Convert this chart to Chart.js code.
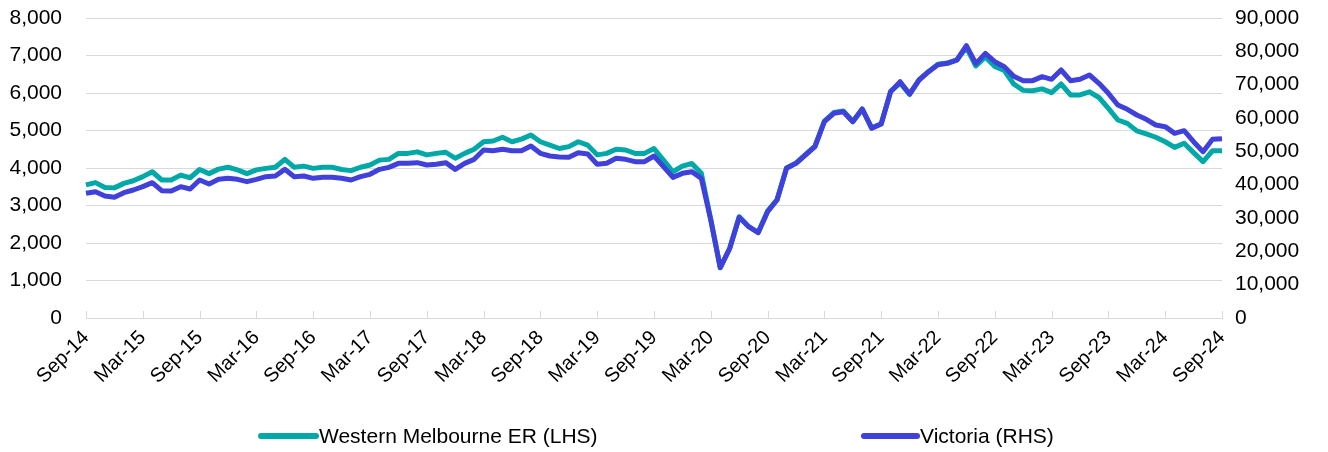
<!DOCTYPE html>
<html>
<head>
<meta charset="utf-8">
<script src="https://cdn.jsdelivr.net/npm/chart.js@4/dist/chart.umd.min.js"></script>
<style>
  html, body { margin: 0; padding: 0; background: #ffffff; }
  #wrap { width: 1328px; height: 452px; }
</style>
</head>
<body>
<div id="wrap"><canvas id="chart" width="1328" height="452"></canvas></div>
<script>
// -----------------------------
// Data (monthly, Sep-14 .. Sep-24)
// -----------------------------
const monthNames = ['Jan', 'Feb', 'Mar', 'Apr', 'May', 'Jun', 'Jul', 'Aug', 'Sep', 'Oct', 'Nov', 'Dec'];
const labels = [];
for (let i = 0; i < 121; i++) {
    const m = (8 + i) % 12;
    const yy = 14 + Math.floor((8 + i) / 12);
    labels.push(monthNames[m] + '-' + yy);
}

const westernMelbourne = [
    3550, 3610, 3480, 3470, 3590, 3660, 3770, 3900, 3680, 3680, 3810, 3740,
    3960, 3850, 3970, 4020, 3950, 3850, 3950, 3990, 4020, 4230, 4020, 4050,
    3990, 4020, 4020, 3960, 3930, 4020, 4080, 4210, 4230, 4390, 4390, 4430,
    4350, 4390, 4420, 4260, 4390, 4500, 4700, 4720, 4820, 4700, 4770, 4880,
    4700, 4610, 4520, 4570, 4700, 4610, 4350, 4390, 4500, 4480, 4390, 4390,
    4520, 4210, 3900, 4050, 4120, 3860, 2620, 1340, 1860, 2700, 2440, 2280,
    2850, 3160, 4000, 4130, 4360, 4580, 5250, 5480, 5520, 5240, 5570, 5070,
    5180, 6050, 6260, 5960, 6350, 6570, 6770, 6800, 6880, 7220, 6720, 6960,
    6710, 6600, 6240, 6070, 6060, 6110, 6010, 6240, 5950, 5950, 6030, 5880,
    5590, 5280, 5190, 4990, 4910, 4820, 4700, 4550, 4660, 4410, 4170, 4460,
    4460
];

const victoria = [
    37400, 37900, 36600, 36200, 37600, 38400, 39400, 40600, 38200, 38100, 39400, 38700,
    41400, 40200, 41600, 41900, 41600, 40900, 41600, 42400, 42600, 44600, 42400, 42600,
    41900, 42200, 42200, 41900, 41400, 42400, 43100, 44600, 45200, 46400, 46400, 46600,
    45900, 46100, 46600, 44600, 46400, 47600, 50400, 50200, 50600, 50200, 50200, 51600,
    49400, 48600, 48300, 48200, 49600, 49200, 46100, 46400, 47900, 47600, 46900, 46900,
    48600, 45400, 42200, 43400, 43900, 41900, 29400, 15100, 20900, 30200, 27400, 25600,
    31900, 35400, 44900, 46400, 48900, 51400, 58900, 61400, 61900, 58900, 62700, 56900,
    58200, 67900, 70900, 67200, 71400, 73900, 76000, 76400, 77400, 81700, 76300, 79400,
    76900, 75400, 72500, 71200, 71200, 72400, 71600, 74400, 71200, 71600, 72900, 70400,
    67400, 63900, 62600, 60900, 59600, 57900, 57400, 55400, 56200, 52900, 49900, 53600,
    53800
];

const seriesNames = ['Western Melbourne ER (LHS)', 'Victoria (RHS)'];
const seriesColors = ['#00A9A8', '#4040DA'];

// -----------------------------
// Theme
// -----------------------------
const fontFamily = '"Liberation Sans", Arial, sans-serif';
const textColor = '#000000';
const gridColor = '#D9D9D9';

// -----------------------------
// Plugin: small inside tick marks on x axis
// -----------------------------
const insideTicks = {
    id: 'insideTicks',
    beforeDatasetsDraw(chart) {
        const {ctx, chartArea, scales} = chart;
        ctx.save();
        ctx.strokeStyle = gridColor;
        ctx.lineWidth = 1;
        for (let i = 0; i < labels.length; i += 6) {
            const x = Math.round(scales.x.getPixelForValue(i)) + 0.5;
            ctx.beginPath();
            ctx.moveTo(x, chartArea.bottom - 7);
            ctx.lineTo(x, chartArea.bottom);
            ctx.stroke();
        }
        ctx.restore();
    }
};

// -----------------------------
// Plugin: Excel-style legend spread across the bottom
// -----------------------------
const spreadLegend = {
    id: 'spreadLegend',
    afterDraw(chart) {
        const {ctx} = chart;
        const y = 436;
        const items = [
            {x0: 261, x1: 316, tx: 319},
            {x0: 864, x1: 917, tx: 920}
        ];
        ctx.save();
        ctx.font = '21px ' + fontFamily;
        ctx.textBaseline = 'middle';
        ctx.textAlign = 'left';
        chart.data.datasets.forEach((ds, i) => {
            const it = items[i];
            ctx.strokeStyle = ds.borderColor;
            ctx.lineWidth = 6;
            ctx.lineCap = 'round';
            ctx.beginPath();
            ctx.moveTo(it.x0, y);
            ctx.lineTo(it.x1, y);
            ctx.stroke();
            ctx.fillStyle = textColor;
            ctx.fillText(ds.label, it.tx, y + 1);
        });
        ctx.restore();
    }
};

new Chart(document.getElementById('chart'), {
    type: 'line',
    data: {
        labels: labels,
        datasets: [{
            label: seriesNames[0],
            data: westernMelbourne,
            yAxisID: 'y',
            borderColor: seriesColors[0],
            backgroundColor: seriesColors[0],
            borderWidth: 5,
            pointRadius: 0,
            tension: 0,
            borderJoinStyle: 'round',
            order: 1
        }, {
            label: seriesNames[1],
            data: victoria,
            yAxisID: 'y2',
            borderColor: seriesColors[1],
            backgroundColor: seriesColors[1],
            borderWidth: 5,
            pointRadius: 0,
            tension: 0,
            borderJoinStyle: 'round',
            order: 0
        }]
    },
    options: {
        responsive: false,
        animation: false,
        layout: {padding: {top: 18, left: 0, right: 0, bottom: 0}},
        plugins: {
            legend: {display: false},
            tooltip: {enabled: false}
        },
        scales: {
            x: {
                offset: false,
                grid: {display: false},
                border: {color: gridColor, width: 1},
                ticks: {
                    autoSkip: false,
                    minRotation: 45,
                    maxRotation: 45,
                    padding: 0,
                    color: textColor,
                    font: {family: fontFamily, size: 20},
                    callback: (v) => (v % 6 === 0 ? labels[v] : null)
                },
                afterFit: (scale) => { scale.height = 134; }
            },
            y: {
                position: 'left',
                min: 0,
                max: 8000,
                // transparent tick marks used as label offset (keeps top padding small)
                grid: {color: gridColor, drawTicks: true, tickLength: 24, tickColor: 'rgba(0,0,0,0)'},
                border: {display: false},
                ticks: {
                    stepSize: 1000,
                    padding: 0,
                    color: textColor,
                    font: {family: fontFamily, size: 21},
                    callback: (v) => v.toLocaleString('en-US')
                },
                afterFit: (scale) => { scale.width = 86; }
            },
            y2: {
                position: 'right',
                min: 0,
                max: 90000,
                grid: {drawOnChartArea: false, drawTicks: true, tickLength: 13, tickColor: 'rgba(0,0,0,0)'},
                border: {display: false},
                ticks: {
                    stepSize: 10000,
                    padding: 0,
                    color: textColor,
                    font: {family: fontFamily, size: 21},
                    callback: (v) => v.toLocaleString('en-US')
                },
                afterFit: (scale) => { scale.width = 106; }
            }
        }
    },
    plugins: [insideTicks, spreadLegend]
});
</script>
</body>
</html>
